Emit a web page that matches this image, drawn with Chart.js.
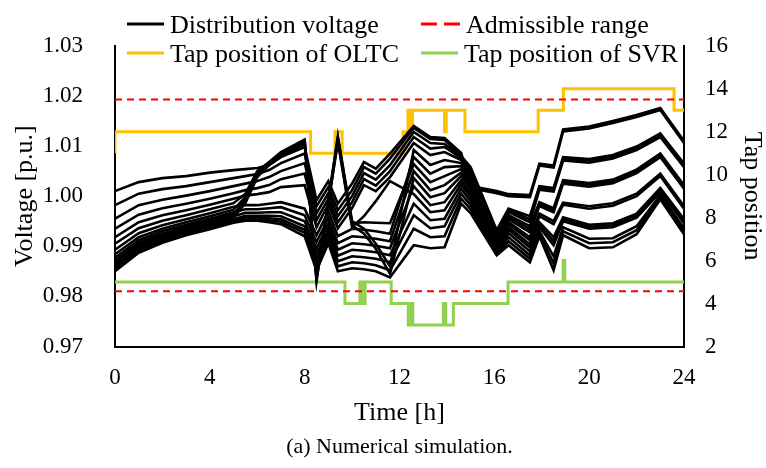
<!DOCTYPE html>
<html>
<head>
<meta charset="utf-8">
<script src="https://cdn.jsdelivr.net/npm/chart.js@4.4.1/dist/chart.umd.min.js"></script>
<style>
  body { margin: 0; background: #fff; }
  canvas { display: block; }
</style>
</head>
<body>
<canvas id="chart" width="766" height="468"></canvas>
<script>
// Time stamps [h] shared by all voltage curves
const hours = [0, 1, 2, 3, 4, 5, 5.5, 6, 6.5, 7, 8, 8.5, 9, 9.4, 10, 10.5, 11, 11.6,
    12.6, 13.3, 13.9, 14.6, 15, 16.1, 16.6, 17.5, 17.9, 18.5, 18.9, 20, 21, 22, 23, 24];

// Distribution voltage [p.u.] of each node
const v00 = [1.0010, 1.0028, 1.0036, 1.0040, 1.0047, 1.0052, 1.0054, 1.0056, 1.0062, 1.0078,
    1.0098, 0.9992, 1.0030, 0.9985, 1.0025, 1.0068, 1.0055, 1.0085, 1.0140, 1.0118, 1.0116, 1.0086,
    1.0020, 1.0010, 1.0004, 1.0002, 1.0065, 1.0061, 1.0133, 1.0139, 1.0150, 1.0162, 1.0176, 1.0110];
const v01 = [0.9982, 1.0005, 1.0014, 1.0020, 1.0028, 1.0036, 1.0040, 1.0044, 1.0052, 1.0066,
    1.0085, 0.9980, 1.0018, 0.9972, 1.0012, 1.0058, 1.0045, 1.0075, 1.0136, 1.0114, 1.0112, 1.0083,
    1.0016, 1.0006, 1.0000, 0.9998, 1.0061, 1.0057, 1.0129, 1.0135, 1.0146, 1.0158, 1.0172, 1.0106];
const v02 = [0.9955, 0.9982, 0.9993, 1.0001, 1.0010, 1.0020, 1.0025, 1.0030, 1.0038, 1.0050,
    1.0066, 0.9966, 1.0006, 0.9960, 1.0000, 1.0046, 1.0033, 1.0062, 1.0128, 1.0106, 1.0104, 1.0080,
    1.0058, 0.9932, 0.9975, 0.9960, 1.0020, 1.0016, 1.0078, 1.0074, 1.0082, 1.0099, 1.0125, 1.0065];
const v03 = [0.9935, 0.9963, 0.9976, 0.9985, 0.9995, 1.0006, 1.0012, 1.0016, 1.0022, 1.0034,
    1.0045, 0.9952, 0.9995, 0.9948, 0.9988, 1.0034, 1.0021, 1.0050, 1.0118, 1.0095, 1.0098, 1.0076,
    1.0052, 0.9928, 0.9972, 0.9954, 1.0017, 1.0013, 1.0075, 1.0071, 1.0079, 1.0096, 1.0122, 1.0062];
const v04 = [0.9918, 0.9948, 0.9962, 0.9972, 0.9983, 0.9995, 1.0001, 1.0004, 1.0008, 1.0018,
    1.0022, 0.9938, 0.9984, 0.9936, 0.9976, 1.0022, 1.0010, 1.0038, 1.0106, 1.0082, 1.0088, 1.0072,
    1.0046, 0.9924, 0.9968, 0.9948, 1.0013, 1.0009, 1.0071, 1.0067, 1.0075, 1.0092, 1.0118, 1.0058];
const v05 = [0.9905, 0.9936, 0.9951, 0.9962, 0.9974, 0.9986, 1.0005, 1.0050, 1.0068, 1.0088,
    1.0113, 0.9830, 0.9992, 1.0120, 0.9950, 0.9935, 0.9905, 0.9860, 1.0092, 1.0062, 1.0072, 1.0066,
    1.0040, 0.9920, 0.9962, 0.9940, 0.9988, 0.9976, 1.0032, 1.0026, 1.0033, 1.0053, 1.0085, 1.0022];
const v06 = [0.9893, 0.9926, 0.9942, 0.9954, 0.9966, 0.9979, 0.9982, 0.9982, 0.9985, 0.9988,
    0.9975, 0.9922, 0.9970, 0.9920, 0.9935, 0.9933, 0.9930, 0.9925, 1.0078, 1.0045, 1.0058, 1.0060,
    1.0033, 0.9916, 0.9958, 0.9934, 0.9984, 0.9972, 1.0029, 1.0023, 1.0030, 1.0050, 1.0082, 1.0019];
const v07 = [0.9884, 0.9918, 0.9935, 0.9948, 0.9960, 0.9973, 0.9998, 1.0046, 1.0066, 1.0085,
    1.0110, 0.9834, 0.9990, 1.0116, 0.9946, 0.9948, 0.9947, 0.9946, 1.0064, 1.0028, 1.0040, 1.0054,
    1.0027, 0.9912, 0.9954, 0.9928, 0.9980, 0.9968, 1.0025, 1.0019, 1.0026, 1.0046, 1.0078, 1.0015];
const v08 = [0.9877, 0.9912, 0.9930, 0.9943, 0.9955, 0.9968, 0.9974, 0.9974, 0.9976, 0.9978,
    0.9962, 0.9908, 0.9957, 0.9906, 0.9920, 0.9918, 0.9915, 0.9910, 1.0050, 1.0012, 1.0022, 1.0047,
    1.0020, 0.9908, 0.9948, 0.9918, 0.9965, 0.9950, 0.9987, 0.9980, 0.9986, 1.0005, 1.0045, 0.9980];
const v09 = [0.9871, 0.9907, 0.9925, 0.9939, 0.9951, 0.9964, 0.9992, 1.0042, 1.0064, 1.0082,
    1.0107, 0.9838, 0.9988, 1.0112, 0.9942, 0.9925, 0.9895, 0.9845, 1.0036, 0.9998, 1.0006, 1.0040,
    1.0013, 0.9904, 0.9944, 0.9912, 0.9960, 0.9944, 0.9983, 0.9975, 0.9981, 1.0000, 1.0040, 0.9975];
const v10 = [0.9866, 0.9903, 0.9921, 0.9935, 0.9947, 0.9960, 0.9967, 0.9967, 0.9968, 0.9968,
    0.9950, 0.9895, 0.9945, 0.9893, 0.9906, 0.9904, 0.9901, 0.9896, 1.0020, 0.9982, 0.9988, 1.0032,
    1.0005, 0.9900, 0.9938, 0.9904, 0.9948, 0.9918, 0.9958, 0.9943, 0.9946, 0.9965, 1.0016, 0.9954];
const v11 = [0.9862, 0.9899, 0.9918, 0.9932, 0.9944, 0.9957, 0.9986, 1.0038, 1.0062, 1.0079,
    1.0104, 0.9842, 0.9986, 1.0108, 0.9938, 0.9960, 0.9990, 1.0030, 1.0004, 0.9968, 0.9972, 1.0024,
    0.9998, 0.9896, 0.9933, 0.9898, 0.9943, 0.9910, 0.9954, 0.9939, 0.9942, 0.9961, 1.0012, 0.9950];
const v12 = [0.9859, 0.9896, 0.9915, 0.9929, 0.9941, 0.9954, 0.9961, 0.9961, 0.9961, 0.9960,
    0.9940, 0.9883, 0.9934, 0.9881, 0.9893, 0.9891, 0.9888, 0.9882, 0.9985, 0.9952, 0.9955, 1.0015,
    0.9990, 0.9892, 0.9926, 0.9890, 0.9938, 0.9902, 0.9950, 0.9935, 0.9938, 0.9957, 1.0008, 0.9946];
const v13 = [0.9856, 0.9893, 0.9912, 0.9927, 0.9939, 0.9952, 0.9957, 0.9957, 0.9956, 0.9954,
    0.9933, 0.9872, 0.9924, 0.9870, 0.9880, 0.9878, 0.9875, 0.9868, 0.9962, 0.9936, 0.9940, 1.0005,
    0.9982, 0.9888, 0.9918, 0.9882, 0.9930, 0.9880, 0.9938, 0.9915, 0.9916, 0.9940, 1.0002, 0.9936];
const v14 = [0.9853, 0.9890, 0.9910, 0.9925, 0.9937, 0.9950, 0.9954, 0.9954, 0.9952, 0.9949,
    0.9927, 0.9862, 0.9915, 0.9860, 0.9868, 0.9866, 0.9862, 0.9852, 0.9935, 0.9918, 0.9920, 0.9995,
    0.9974, 0.9885, 0.9910, 0.9875, 0.9925, 0.9866, 0.9930, 0.9906, 0.9908, 0.9932, 0.9998, 0.9930];
const v15 = [0.9850, 0.9887, 0.9907, 0.9922, 0.9934, 0.9947, 0.9951, 0.9951, 0.9948, 0.9944,
    0.9920, 0.9852, 0.9906, 0.9850, 0.9856, 0.9854, 0.9850, 0.9838, 0.9902, 0.9896, 0.9898, 0.9985,
    0.9966, 0.9882, 0.9902, 0.9868, 0.9920, 0.9852, 0.9922, 0.9896, 0.9898, 0.9924, 0.9994, 0.9924];
const voltageSeries = [v00, v01, v02, v03, v04, v05, v06, v07, v08, v09, v10, v11, v12, v13, v14, v15];

// Admissible voltage range [p.u.]
const upperLimit = 1.0193;
const lowerLimit = 0.9810;

// Tap positions: hour at which the tap changes, and the new tap
const oltcHours = [0, 0, 8.25, 9.28, 9.58, 12.15, 12.36, 12.47, 12.55, 13.9, 13.97, 14.76, 17.85, 18.91, 23.58, 24];
const oltcTaps  = [11, 12, 11, 12, 11, 12, 13, 12, 13, 12, 13, 12, 13, 14, 13, 13];
const svrHours = [0, 9.7, 10.33, 10.43, 10.55, 11.65, 12.37, 12.5, 12.56, 13.85, 13.95, 14.27, 16.58, 18.9, 18.97, 24];
const svrTaps  = [5, 4, 5, 4, 5, 4, 3, 4, 3, 4, 3, 4, 5, 6, 5, 5];

// Axis ticks
const timeTicks = { min: 0, max: 24, step: 4 };
const voltTicks = { min: 0.97, max: 1.03, step: 0.01 };
const tapTicks = { min: 2, max: 16, step: 2 };

const FONT = "'Liberation Serif', 'Times New Roman', serif";
const BLACK = '#000000';
const RED = '#FF0000';
const ORANGE = '#FFC000';
const GREEN = '#92D050';

function points(xs, ys) {
    return xs.map((x, i) => ({ x: x, y: ys[i] }));
}

const datasets = [];

voltageSeries.forEach((series, i) => {
    datasets.push({
        label: i === 0 ? 'Distribution voltage' : 'node ' + i,
        data: points(hours, series),
        yAxisID: 'y',
        borderColor: BLACK,
        borderWidth: 2.6,
        pointRadius: 0,
        tension: 0
    });
});

[upperLimit, lowerLimit].forEach(limit => {
    datasets.push({
        label: 'Admissible range',
        data: points([timeTicks.min, timeTicks.max], [limit, limit]),
        yAxisID: 'y',
        borderColor: RED,
        borderWidth: 2,
        borderDash: [7, 5],
        pointRadius: 0
    });
});

datasets.push({
    label: 'Tap position of OLTC',
    data: points(oltcHours, oltcTaps),
    yAxisID: 'y2',
    borderColor: ORANGE,
    borderWidth: 3,
    pointRadius: 0,
    stepped: true
});

datasets.push({
    label: 'Tap position of SVR',
    data: points(svrHours, svrTaps),
    yAxisID: 'y2',
    borderColor: GREEN,
    borderWidth: 3,
    pointRadius: 0,
    stepped: true
});

// Legend (two rows, two columns) and the caption under the chart
const legendItems = [
    { text: 'Distribution voltage', color: BLACK, dash: false, x: 127, y: 24 },
    { text: 'Admissible range', color: RED, dash: true, x: 421, y: 24 },
    { text: 'Tap position of OLTC', color: ORANGE, dash: false, x: 127, y: 53 },
    { text: 'Tap position of SVR', color: GREEN, dash: false, x: 421, y: 53 }
];

const legendPlugin = {
    id: 'legendAndCaption',
    afterDraw(chart) {
        const c = chart.ctx;
        c.save();
        c.font = '26px ' + FONT;
        c.textBaseline = 'alphabetic';
        c.textAlign = 'left';
        legendItems.forEach(item => {
            const len = item.dash ? 39 : 37;
            c.strokeStyle = item.color;
            c.lineWidth = 3;
            c.setLineDash(item.dash ? [16, 7] : []);
            c.beginPath();
            c.moveTo(item.x, item.y);
            c.lineTo(item.x + len, item.y);
            c.stroke();
            c.setLineDash([]);
            c.fillStyle = BLACK;
            c.fillText(item.text, item.x + len + 6, item.y + 8.5);
        });
        c.font = '22px ' + FONT;
        c.textAlign = 'center';
        c.textBaseline = 'middle';
        c.fillText('(a) Numerical simulation.', (chart.chartArea.left + chart.chartArea.right) / 2, 447);
        c.restore();
    }
};

const ctx = document.getElementById('chart').getContext('2d');
new Chart(ctx, {
    type: 'line',
    data: { datasets: datasets },
    options: {
        responsive: false,
        animation: false,
        devicePixelRatio: 1,
        layout: { padding: { top: 42.5, left: 0, right: 0, bottom: 0 } },
        plugins: {
            legend: { display: false },
            tooltip: { enabled: false }
        },
        scales: {
            x: {
                type: 'linear',
                min: timeTicks.min,
                max: timeTicks.max,
                ticks: { stepSize: timeTicks.step, color: BLACK, font: { family: FONT, size: 23 }, padding: 18, maxRotation: 0 },
                grid: { display: false, drawTicks: false },
                border: { display: true, color: BLACK, width: 2 },
                title: { display: true, text: 'Time [h]', color: BLACK, font: { family: FONT, size: 26, lineHeight: 1 }, padding: { top: 0, bottom: 42 } },
                afterFit(scale) { scale.height = 121.5; }
            },
            y: {
                position: 'left',
                min: voltTicks.min,
                max: voltTicks.max,
                ticks: { stepSize: voltTicks.step, color: BLACK, font: { family: FONT, size: 23 }, padding: 32,
                    callback: v => v.toFixed(2) },
                grid: { display: false, drawTicks: false },
                border: { display: true, color: BLACK, width: 2 },
                title: { display: true, text: 'Voltage [p.u.]', color: BLACK, font: { family: FONT, size: 26, lineHeight: 1 }, padding: { top: 12, bottom: 0 } },
                afterFit(scale) { scale.width = 115; }
            },
            y2: {
                position: 'right',
                min: tapTicks.min,
                max: tapTicks.max,
                ticks: { stepSize: tapTicks.step, color: BLACK, font: { family: FONT, size: 23 }, padding: 21 },
                grid: { display: false, drawTicks: false },
                border: { display: true, color: BLACK, width: 2 },
                title: { display: true, text: 'Tap position', color: BLACK, font: { family: FONT, size: 26, lineHeight: 1 }, padding: { top: 1, bottom: 0 } },
                afterFit(scale) { scale.width = 82; }
            }
        }
    },
    plugins: [legendPlugin]
});
</script>
</body>
</html>
